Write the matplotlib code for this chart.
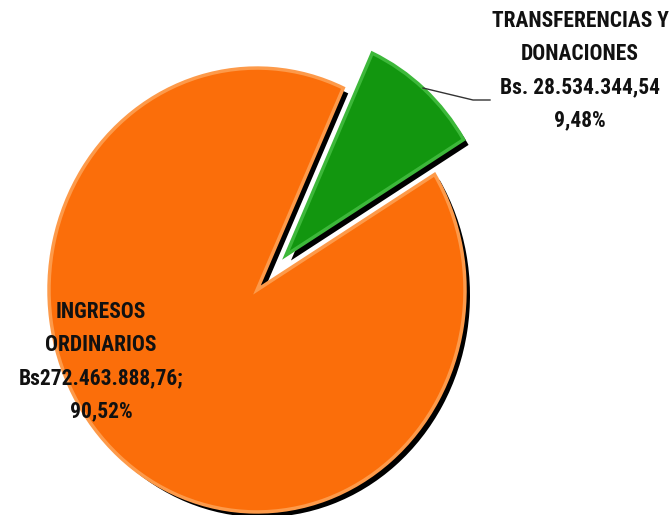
import matplotlib
matplotlib.use("Agg")
import matplotlib.pyplot as plt
from matplotlib import font_manager

categories = ["INGRESOS\nORDINARIOS", "TRANSFERENCIAS Y\nDONACIONES"]
amounts = ["Bs272.463.888,76;", "Bs. 28.534.344,54"]
percents = [90.52, 9.48]
colors = ["#FB6E0A", "#12960F"]
edge_colors = ["#FD9A4A", "#3DB83A"]
explode_frac = [0.0, 0.21]

W, H = 672, 515
YS = 1.067  # vertical stretch of the ellipse

fams = {f.name for f in font_manager.fontManager.ttflist}
font = [f for f in ["Liberation Sans Narrow", "Roboto Condensed", "DejaVu Sans"] if f in fams] or ["DejaVu Sans"]

fig = plt.figure(figsize=(W / 100, H / 100), dpi=100)
ax = fig.add_axes([0, 0, 1, 1])

cx, cy = 257, (H - 290) / YS
R = 208
explode = [e * R for e in explode_frac]

# shadow
ax.pie(percents, explode=explode, startangle=65.5, counterclock=True,
       colors=["black", "black"], radius=R, center=(cx + 5, cy - 5),
       wedgeprops=dict(linewidth=0, zorder=1))
# main
wedges, _ = ax.pie(percents, explode=explode, startangle=65.5, counterclock=True,
                   colors=colors, radius=R, center=(cx, cy),
                   wedgeprops=dict(linewidth=2.5, zorder=2))
for w, ec in zip(wedges, edge_colors):
    w.set_edgecolor(ec)
    w.set_zorder(2)

ax.set_aspect("auto")
ax.set_xlim(0, W)
ax.set_ylim(0, H / YS)
ax.set_position([0, 0, 1, 1])
ax.axis("off")

def py(y):
    return (H - y) / YS

tkw = dict(ha="center", va="center", fontsize=15.5, fontweight="bold",
           fontstretch="condensed", family=font, color="#111111",
           linespacing=1.65, zorder=5)

# right label
ax.text(580, py(71), categories[1] + "\n" + amounts[1] + "\n" + f"{percents[1]:.2f}%".replace(".", ","), **tkw)
# leader line
ax.plot([423, 473, 490], [py(88), py(100), py(100)], color="#333333", lw=1, zorder=4)

# left label
ax.text(101, py(362), categories[0] + "\n" + amounts[0] + "\n" + f"{percents[0]:.2f}%".replace(".", ","), **tkw)

fig.savefig("out.png", dpi=100)
